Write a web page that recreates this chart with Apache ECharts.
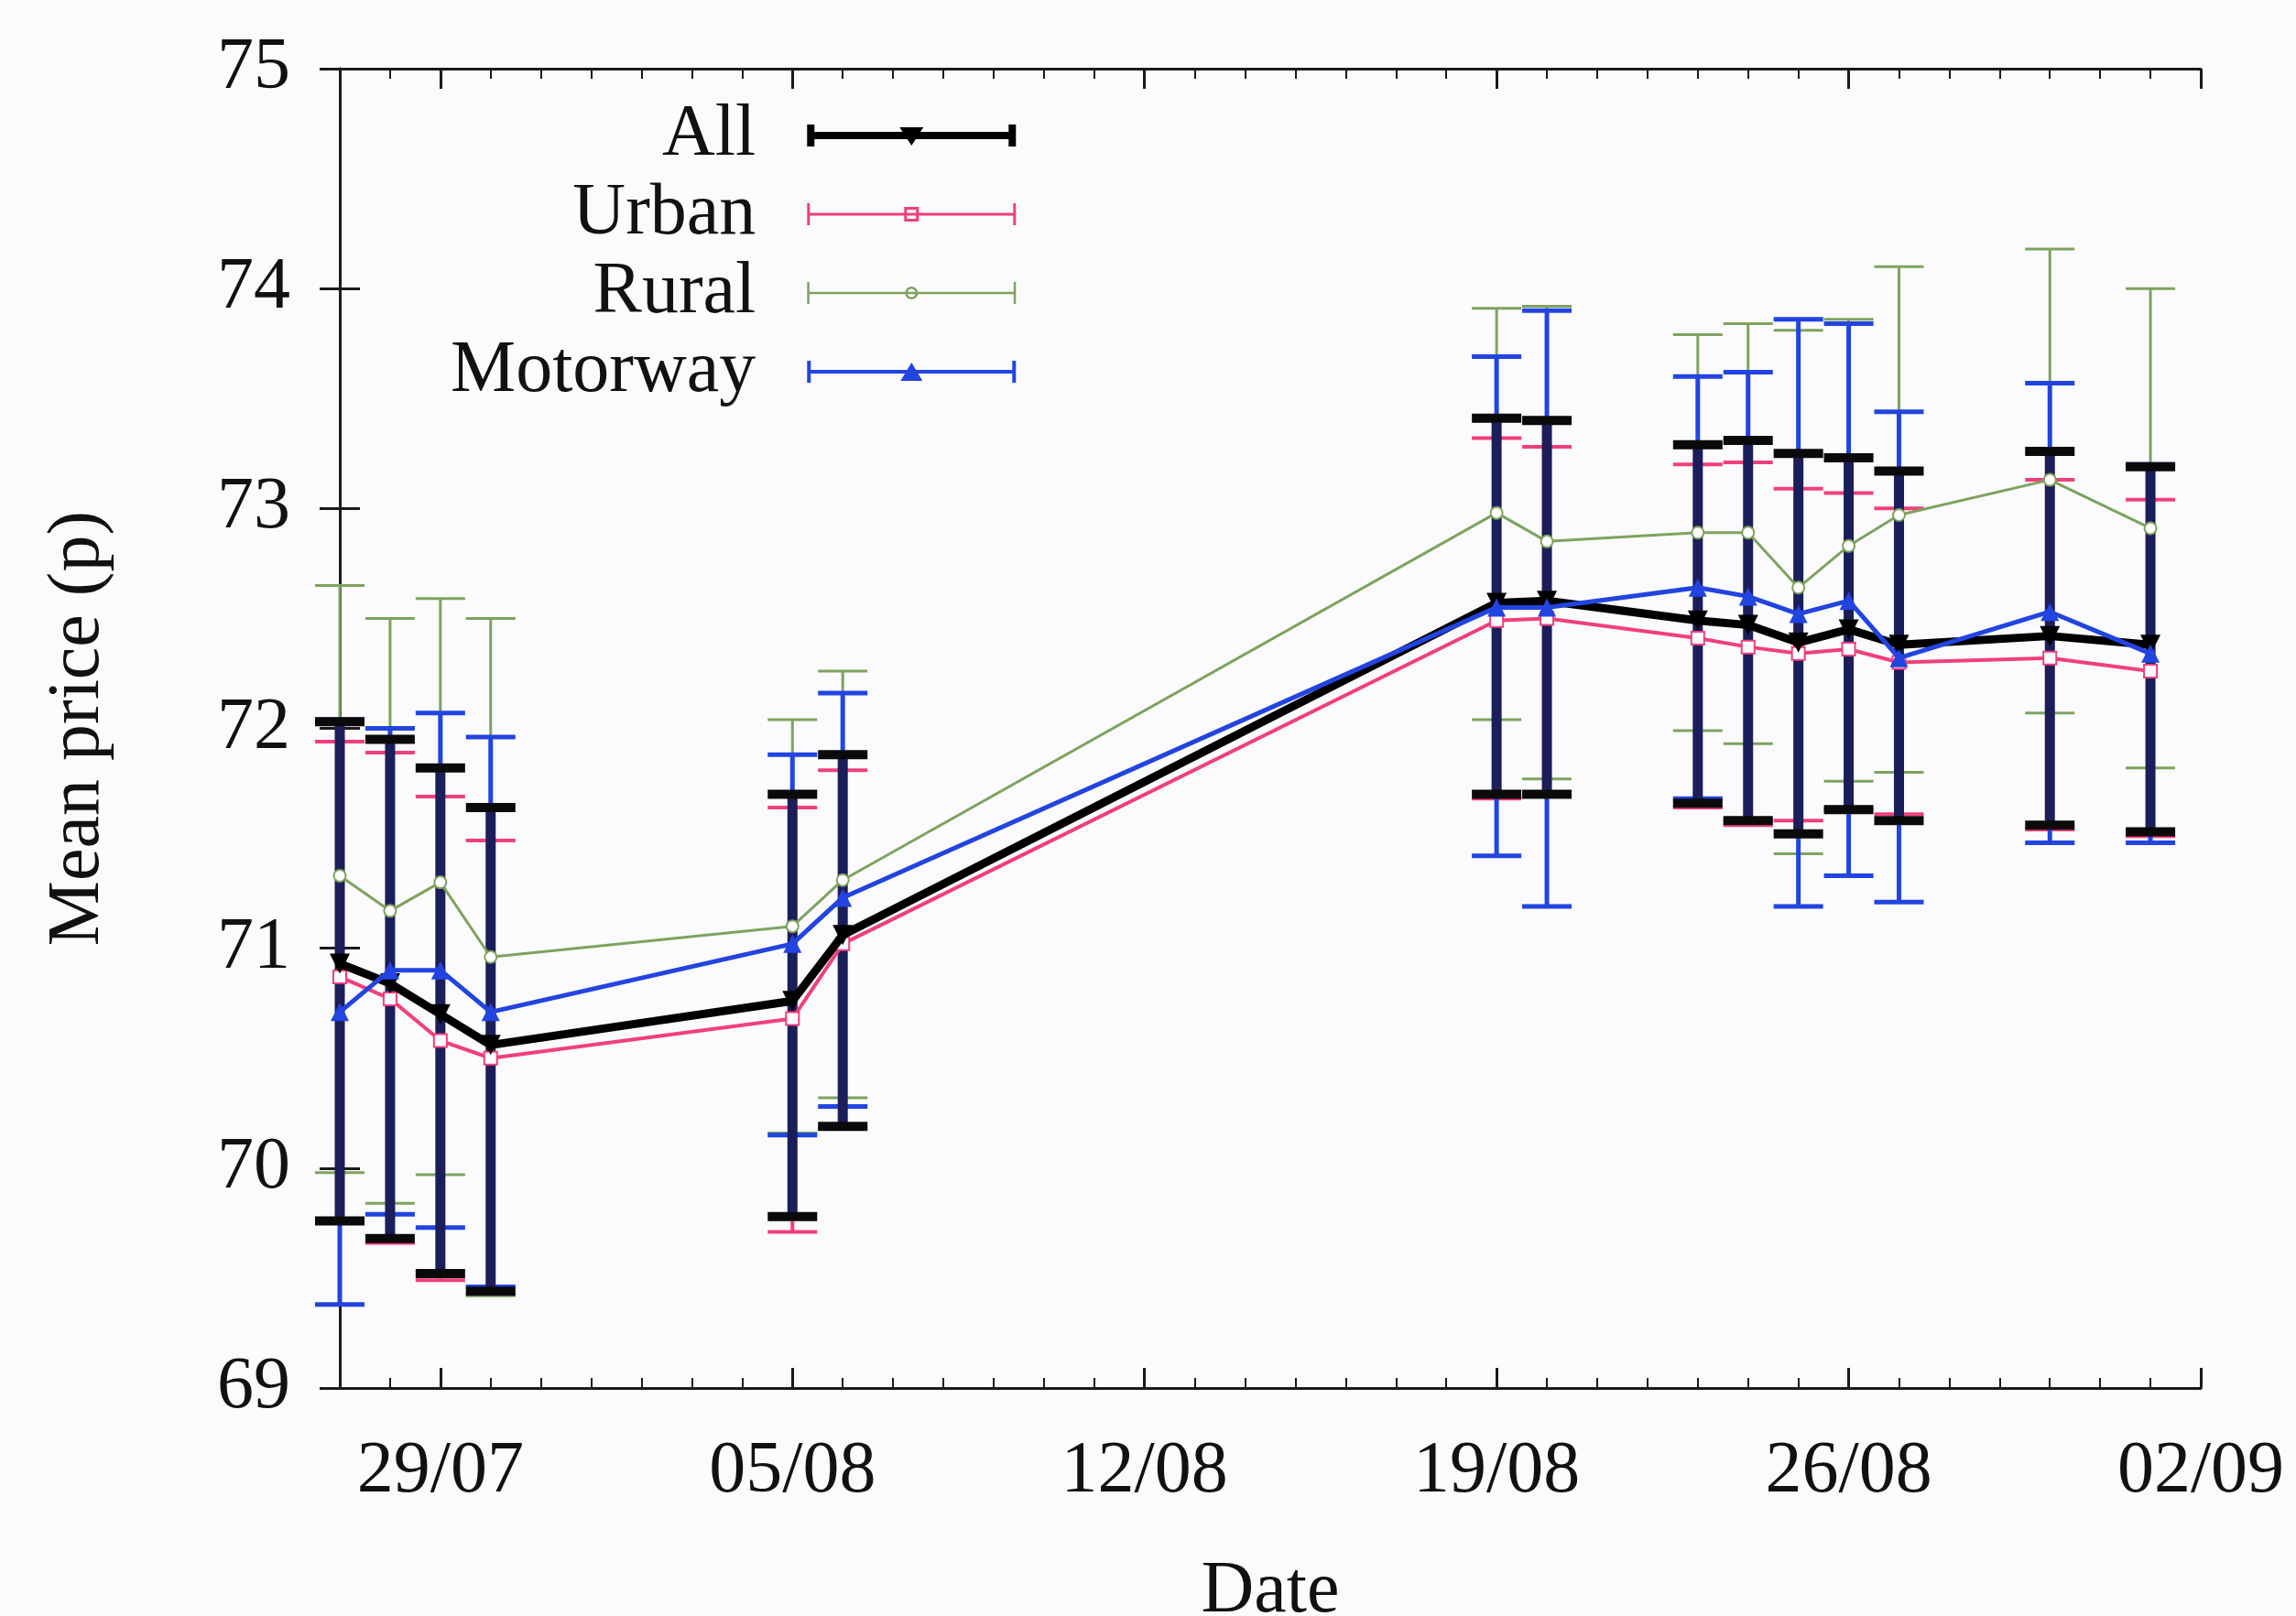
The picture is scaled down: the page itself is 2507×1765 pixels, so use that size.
<!DOCTYPE html>
<html>
<head>
<meta charset="utf-8">
<title>Mean price by road type</title>
<script src="https://cdn.jsdelivr.net/npm/echarts@6/dist/echarts.min.js"></script>
<style>
  html, body { margin: 0; padding: 0; background: #fbfbfd; }
  #chart { width: 2507px; height: 1765px; }
</style>
</head>
<body>
<div id="chart"></div>
<script>
  // survey days
  var startDate = '2013-07-27';
  var endDate = '2013-09-02';
  var dates = ['2013-07-27', '2013-07-28', '2013-07-29', '2013-07-30', '2013-08-05', '2013-08-06',
    '2013-08-19', '2013-08-20', '2013-08-23', '2013-08-24', '2013-08-25', '2013-08-26',
    '2013-08-27', '2013-08-30', '2013-09-01'];

  // x tick labels
  var tickDates = ['2013-07-29', '2013-08-05', '2013-08-12', '2013-08-19', '2013-08-26', '2013-09-02'];
  var tickLabels = ['29/07', '05/08', '12/08', '19/08', '26/08', '02/09'];

  // All
  var allMean = [70.93, 70.84, 70.70, 70.56, 70.76, 71.06, 72.57, 72.58, 72.49, 72.47, 72.39, 72.45, 72.38, 72.42, 72.38];
  var allHigh = [72.03, 71.95, 71.82, 71.64, 71.70, 71.88, 73.41, 73.40, 73.29, 73.31, 73.25, 73.23, 73.17, 73.26, 73.19];
  var allLow = [69.76, 69.68, 69.52, 69.44, 69.78, 70.19, 71.70, 71.70, 71.66, 71.58, 71.52, 71.63, 71.58, 71.56, 71.53];

  // Urban
  var urbanMean = [70.87, 70.77, 70.58, 70.50, 70.68, 71.02, 72.49, 72.50, 72.41, 72.37, 72.34, 72.36, 72.30, 72.32, 72.26];
  var urbanHigh = [71.94, 71.89, 71.69, 71.49, 71.64, 71.81, 73.32, 73.28, 73.20, 73.21, 73.09, 73.07, 73.00, 73.13, 73.04];
  var urbanLow = [69.75, 69.66, 69.49, 69.43, 69.71, 70.18, 71.68, 71.69, 71.64, 71.56, 71.58, 71.63, 71.61, 71.54, 71.51];

  // Rural
  var ruralMean = [71.33, 71.17, 71.30, 70.96, 71.10, 71.31, 72.98, 72.85, 72.89, 72.89, 72.64, 72.83, 72.97, 73.13, 72.91];
  var ruralHigh = [72.65, 72.50, 72.59, 72.50, 72.04, 72.26, 73.91, 73.92, 73.79, 73.84, 73.81, 73.86, 74.10, 74.18, 74.00];
  var ruralLow = [69.98, 69.84, 69.97, 69.42, 70.16, 70.32, 72.04, 71.77, 71.99, 71.93, 71.43, 71.76, 71.80, 72.07, 71.82];

  // Motorway
  var motorwayMean = [70.71, 70.90, 70.90, 70.71, 71.02, 71.23, 72.55, 72.55, 72.64, 72.60, 72.52, 72.58, 72.32, 72.53, 72.34];
  var motorwayHigh = [72.04, 72.00, 72.07, 71.96, 71.88, 72.16, 73.69, 73.90, 73.60, 73.62, 73.86, 73.84, 73.44, 73.57, 73.20];
  var motorwayLow = [69.38, 69.79, 69.73, 69.46, 70.15, 70.28, 71.42, 71.19, 71.68, 71.58, 71.19, 71.33, 71.21, 71.48, 71.48];

  var FONT = 'Liberation Serif';

  function dayOf(d) {
    return (Date.parse(d) - Date.parse(startDate)) / 86400000;
  }
  var days = dates.map(dayOf);
  var tickDays = tickDates.map(dayOf);
  var maxDay = dayOf(endDate);

  /* error bars: stem + two caps */
  function errorBars(name, low, high, stemColor, stemWidth, capColor, capWidth, z) {
    return {
      name: name,
      type: 'custom',
      z: z,
      clip: false,
      silent: true,
      encode: {x: 0, y: [1, 2]},
      data: days.map(function (d, i) { return [d, low[i], high[i]]; }),
      renderItem: function (params, api) {
        var x = api.value(0);
        var a = api.coord([x, api.value(1)]);
        var b = api.coord([x, api.value(2)]);
        var h = 27;
        return {
          type: 'group',
          children: [
            {type: 'line', shape: {x1: a[0], y1: a[1], x2: b[0], y2: b[1]},
              style: {stroke: stemColor, lineWidth: stemWidth}},
            {type: 'line', shape: {x1: a[0] - h, y1: a[1], x2: a[0] + h, y2: a[1]},
              style: {stroke: capColor, lineWidth: capWidth}},
            {type: 'line', shape: {x1: b[0] - h, y1: b[1], x2: b[0] + h, y2: b[1]},
              style: {stroke: capColor, lineWidth: capWidth}}
          ]
        };
      }
    };
  }

  function meanLine(name, mean, color, width, symbol, size, z, extra) {
    var s = {
      name: name,
      type: 'line',
      z: z,
      data: days.map(function (d, i) { return [d, mean[i]]; }),
      symbol: symbol,
      symbolSize: size,
      showAllSymbol: true,
      lineStyle: {color: color, width: width},
      itemStyle: {color: color}
    };
    for (var k in extra) s[k] = extra[k];
    return s;
  }

  // legend samples (line with error-bar ends and marker)
  var iconAll = 'path://M0,8L228,8L228,16L0,16Z M0,0L8,0L8,24L0,24Z M220,0L228,0L228,24L220,24Z M101,3L127,3L114,23Z';
  var iconUrban = 'path://M0,10.5L228,10.5L228,13.5L0,13.5Z M0,0L3,0L3,24L0,24Z M225,0L228,0L228,24L225,24Z ' +
    'M106,4L122,4L122,20L106,20Z M109,7L109,17L119,17L119,7Z';
  var iconRural = 'path://M0,10.75L228,10.75L228,13.25L0,13.25Z M0,0L2.5,0L2.5,24L0,24Z M225.5,0L228,0L228,24L225.5,24Z ' +
    'M121,12A7,7 0 1,1 107,12A7,7 0 1,1 121,12Z M118.5,12A4.5,4.5 0 1,0 109.5,12A4.5,4.5 0 1,0 118.5,12Z';
  var iconMotorway = 'path://M0,10L228,10L228,14L0,14Z M0,0L4,0L4,24L0,24Z M224,0L228,0L228,24L224,24Z M102,22L114,2L126,22Z';

  var chart = echarts.init(document.getElementById('chart'), null, {renderer: 'canvas'});

  var axisLineStyle = {color: '#1a1a1a', width: 3};

  chart.setOption({
    animation: false,
    backgroundColor: '#fbfbfd',
    grid: {left: 371, right: 104, top: 75, bottom: 249, containLabel: false, outerBoundsMode: 'none'},
    legend: {
      orient: 'vertical',
      left: 492,
      top: 108,
      padding: 0,
      align: 'right',
      itemWidth: 228,
      itemHeight: 24,
      itemGap: 6,
      selectedMode: false,
      itemStyle: {borderWidth: 0},
      textStyle: {fontFamily: FONT, fontSize: 80, color: '#111', padding: [0, 51, 0, 0]},
      data: [
        {name: 'All', icon: iconAll},
        {name: 'Urban', icon: iconUrban},
        {name: 'Rural', icon: iconRural},
        {name: 'Motorway', icon: iconMotorway}
      ]
    },
    xAxis: [
      {
        type: 'value', position: 'bottom', min: 0, max: maxDay,
        name: 'Date', nameLocation: 'middle', nameGap: 183,
        nameTextStyle: {fontFamily: FONT, fontSize: 80, color: '#111'},
        axisLine: {show: true, lineStyle: axisLineStyle},
        axisTick: {show: true, inside: true, length: 22, customValues: tickDays, lineStyle: {color: '#1a1a1a', width: 3}},
        axisLabel: {
          show: true, margin: 52, customValues: tickDays,
          fontFamily: FONT, fontSize: 80, color: '#111',
          formatter: function (v) {
            var i = tickDays.indexOf(v);
            return i >= 0 ? tickLabels[i] : '';
          }
        },
        splitLine: {show: false}
      },
      {
        type: 'value', position: 'bottom', min: 0, max: maxDay, interval: 1,
        axisLine: {show: false},
        axisTick: {show: true, inside: true, length: 11, lineStyle: {color: '#1a1a1a', width: 2}},
        axisLabel: {show: false},
        splitLine: {show: false}
      },
      {
        type: 'value', position: 'top', min: 0, max: maxDay,
        axisLine: {show: true, lineStyle: axisLineStyle},
        axisTick: {show: true, inside: true, length: 22, customValues: tickDays, lineStyle: {color: '#1a1a1a', width: 3}},
        axisLabel: {show: false},
        splitLine: {show: false}
      },
      {
        type: 'value', position: 'top', min: 0, max: maxDay, interval: 1,
        axisLine: {show: false},
        axisTick: {show: true, inside: true, length: 11, lineStyle: {color: '#1a1a1a', width: 2}},
        axisLabel: {show: false},
        splitLine: {show: false}
      }
    ],
    yAxis: [
      {
        type: 'value', position: 'left', min: 69, max: 75, interval: 1,
        name: 'Mean price (p)', nameLocation: 'middle', nameGap: 245, nameRotate: 90,
        nameTextStyle: {fontFamily: FONT, fontSize: 80, color: '#111'},
        axisLine: {show: true, lineStyle: axisLineStyle},
        axisTick: {show: true, inside: true, length: 22, lineStyle: {color: '#1a1a1a', width: 3}},
        axisLabel: {margin: 54, fontFamily: FONT, fontSize: 80, color: '#111'},
        splitLine: {show: false}
      },
      {
        type: 'value', position: 'right', min: 69, max: 75, interval: 1,
        axisLine: {show: true, lineStyle: axisLineStyle},
        axisTick: {show: true, inside: true, length: 22, lineStyle: {color: '#1a1a1a', width: 3}},
        axisLabel: {show: false},
        splitLine: {show: false}
      }
    ],
    series: [
      errorBars('Urban err', urbanLow, urbanHigh, '#f0407a', 4, '#f0407a', 4, 2),
      errorBars('Rural err', ruralLow, ruralHigh, '#7ea35e', 3, '#7ea35e', 3, 2),
      errorBars('Motorway err', motorwayLow, motorwayHigh, '#2244e0', 5, '#2244e0', 5, 2),
      errorBars('All err', allLow, allHigh, '#1c1e5a', 11, '#0a0a0a', 10, 3),
      meanLine('Urban', urbanMean, '#f0407a', 4, 'emptyRect', 14, 4, {itemStyle: {color: '#f0407a', borderWidth: 3}}),
      meanLine('All', allMean, '#000000', 9, 'triangle', 22, 5, {symbolRotate: 180}),
      meanLine('Rural', ruralMean, '#7ea35e', 3, 'emptyCircle', 13, 6, {itemStyle: {color: '#7ea35e', borderWidth: 2.5}}),
      meanLine('Motorway', motorwayMean, '#2244e0', 5, 'triangle', 20, 7, {})
    ]
  });
</script>
</body>
</html>
